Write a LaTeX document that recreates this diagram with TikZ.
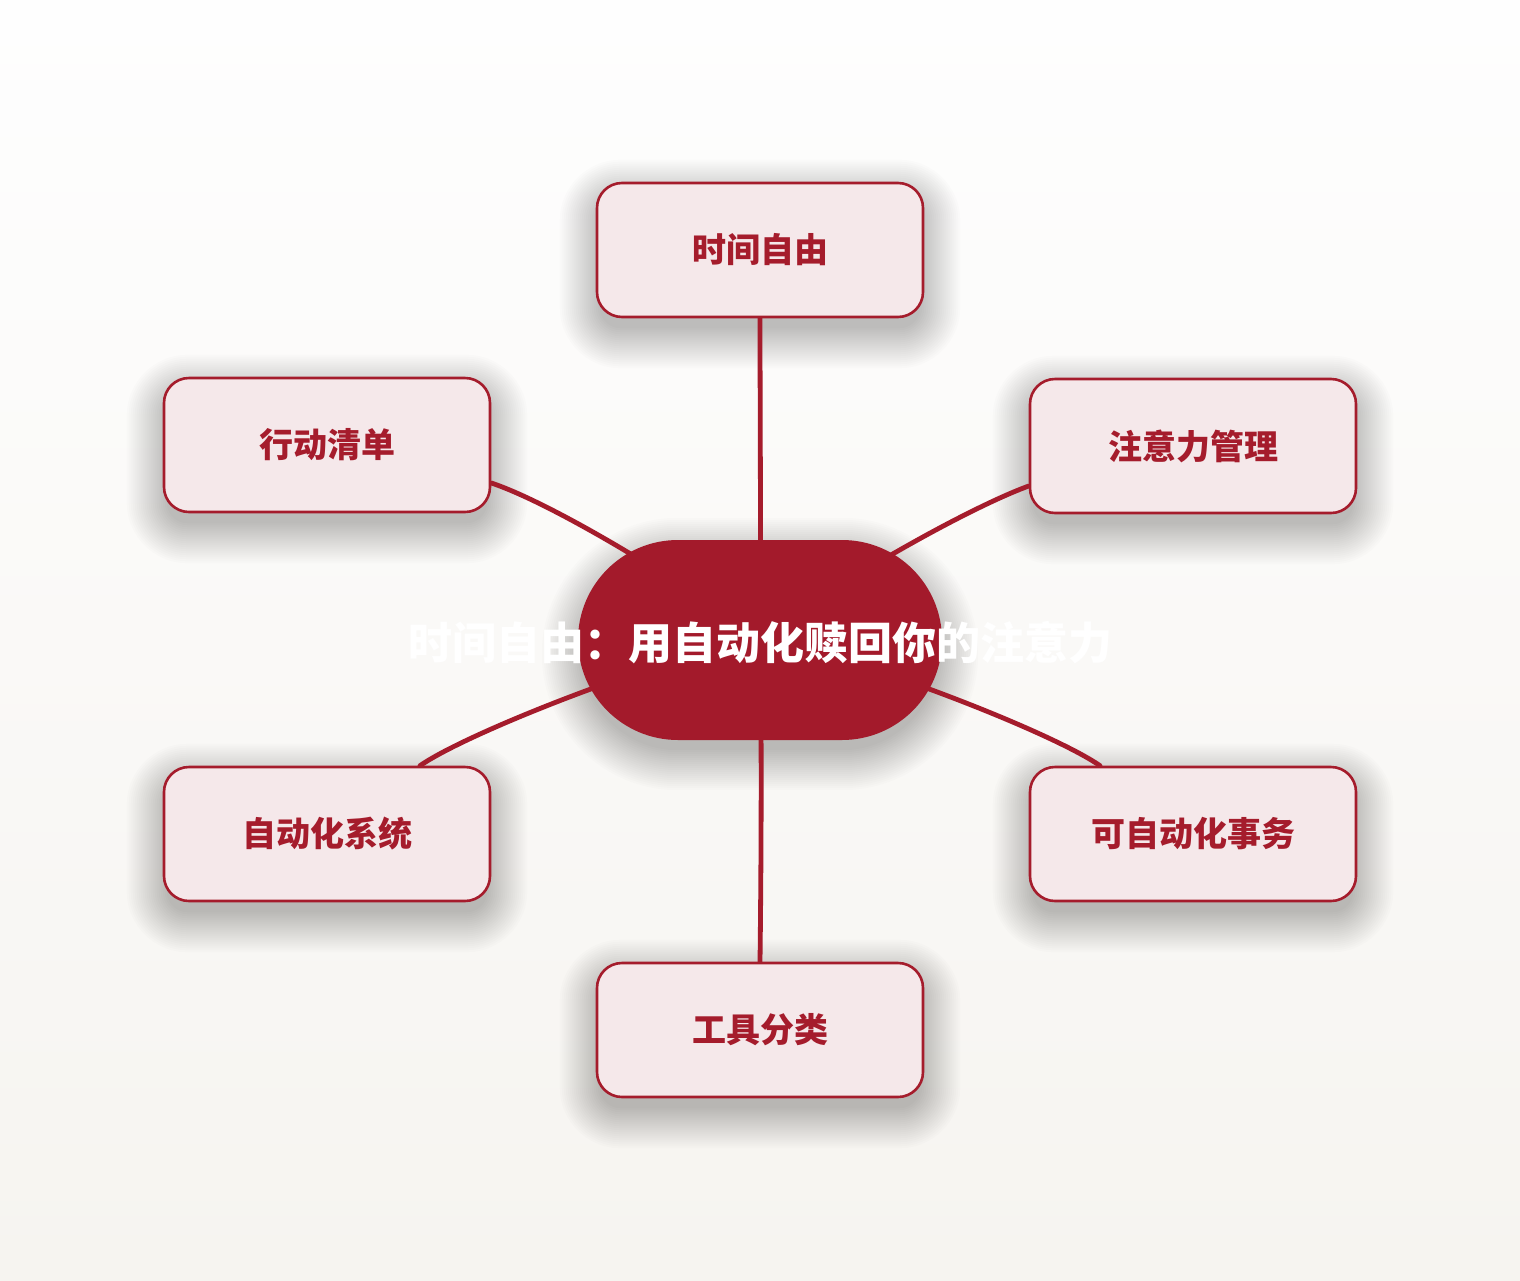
\documentclass[tikz,border=0pt]{standalone}
\usepackage{fontspec}
\newfontfamily\cjk{Noto Sans CJK SC}
\usetikzlibrary{calc}
\definecolor{dred}{HTML}{A51C2C}
\definecolor{cred}{HTML}{A31A2B}
\definecolor{boxfill}{HTML}{F5E8EA}
\definecolor{bgtop}{HTML}{FEFEFE}
\definecolor{bgbot}{HTML}{F6F4F0}
\pgfdeclarelayer{bglayer}
\pgfdeclarelayer{shadowlayer}
\pgfdeclarelayer{lines}
\pgfsetlayers{bglayer,shadowlayer,lines,main}
\tikzset{
  topicbox/.style={rounded corners=25pt, minimum width=326pt, minimum height=134pt,
    fill=boxfill, draw=dred, line width=2.6pt, text=dred, inner sep=0pt,
    font=\cjk\bfseries\fontsize{34}{40}\selectfont},
  hubshape/.style={rounded corners=100pt, minimum width=364pt, minimum height=200pt,
    fill=cred, draw=none, inner sep=0pt},
  hubtext/.style={text=white, inner sep=0pt, font=\cjk\bfseries\fontsize{44}{50}\selectfont},
  conn/.style={draw=dred, line width=4.8pt, line cap=round},
  shadowpiece/.style={fill=black, opacity=0.011}
}
\newcommand\softshadow[3]{%
  \foreach \e in {-4,-2,...,36} {%
    \pgfmathsetmacro\rr{max(#2+\e,1)}%
    \fill[shadowpiece, rounded corners=\rr pt]
      ($(#1.south west)+(-\e,\e+#3)$) rectangle ($(#1.north east)+(\e,-\e+#3)$);
  }%
}
\begin{document}
\begin{tikzpicture}[x=1pt,y=-1pt]
\begin{pgfonlayer}{bglayer}
\shade[top color=bgtop, bottom color=bgbot] (0,0) rectangle (1520,1280);
\end{pgfonlayer}
\useasboundingbox (0,0) rectangle (1520,1280);

\node[hubshape] (c) at (760,640) {};
\node[hubtext] (ct) at (760,643) {时间自由：用自动化赎回你的注意力};

\node[topicbox] (t)  at (760,250)  {\raisebox{-3pt}{时间自由}};
\node[topicbox] (ul) at (327,445)  {\raisebox{-3pt}{行动清单}};
\node[topicbox] (ur) at (1193,446) {\raisebox{-3pt}{注意力管理}};
\node[topicbox] (ll) at (327,834)  {\raisebox{-3pt}{自动化系统}};
\node[topicbox] (lr) at (1193,834) {\raisebox{-3pt}{可自动化事务}};
\node[topicbox] (b)  at (760,1030) {\raisebox{-3pt}{工具分类}};

\begin{pgfonlayer}{shadowlayer}
\softshadow{c}{100}{14}
\softshadow{t}{25}{14}
\softshadow{ul}{25}{14}
\softshadow{ur}{25}{14}
\softshadow{ll}{25}{14}
\softshadow{lr}{25}{14}
\softshadow{b}{25}{14}
\end{pgfonlayer}

\begin{pgfonlayer}{lines}
\draw[conn] (t.south) .. controls +(0,80) and +(1,-100) .. (c.center);
\draw[conn] (b.north) .. controls +(1,-80) and +(2,100) .. (c.center);
\draw[conn] ($(ul.east)+(0,38)$) .. controls +(60,20) and +(-80,-60) .. (c.center);
\draw[conn] ($(ur.west)+(0,40)$) .. controls +(-60,22) and +(80,-60) .. (c.center);
\draw[conn] ($(ll.north)+(93,0)$) .. controls +(50,-35) and +(-80,10) .. (c.center);
\draw[conn] ($(lr.north)+(-93,0)$) .. controls +(-50,-35) and +(80,10) .. (c.center);
\end{pgfonlayer}
\end{tikzpicture}
\end{document}
